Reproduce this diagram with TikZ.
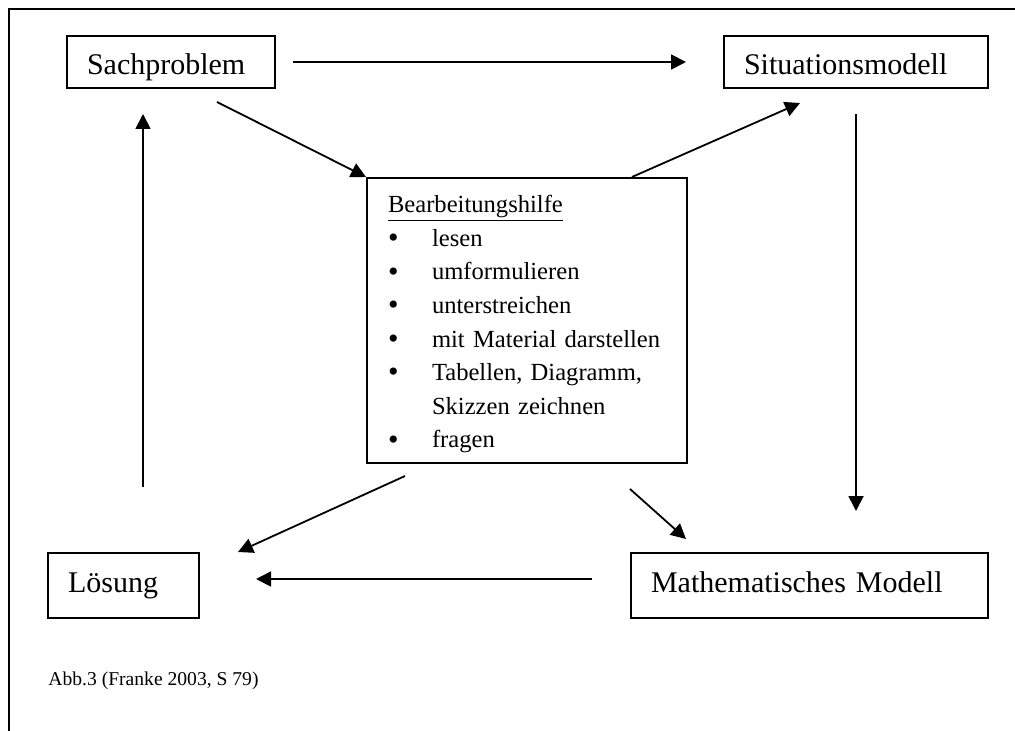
\documentclass[tikz,border=0pt]{standalone}
\usepackage{fontspec}
\setmainfont{Liberation Serif}
\usetikzlibrary{arrows.meta}

\tikzset{
   kasten/.style={draw, line width=1pt, rectangle, inner xsep=10pt, inner ysep=0pt,
      align=left, font=\fontsize{15}{18}\selectfont},
   oben/.style={minimum height=26pt, text height=15pt, text depth=2pt},
   unten/.style={minimum height=32.5pt, text height=10.5pt, text depth=4pt},
   pfeil/.style={-{Triangle[length=7.5pt,width=7.5pt]}, line width=0.9pt},
}
\newcommand{\punkt}{\makebox[22pt][l]{\smash{\raisebox{-0.6pt}{\fontsize{15}{0}\selectfont\textbullet}}}}

\begin{document}
\begin{tikzpicture}[x=0.5pt,y=-0.5pt]
   \useasboundingbox (0,0) rectangle (1015,731);
   % Rahmen
   \draw[line width=1pt] (1015,9) -- (9,9) -- (9,731);

   \node[kasten, oben, text width=84pt] (sach) at (171,62) {Sachproblem};
   \node[kasten, oben, text width=112pt] (situ) at (856,62) {Situationsmodell};
   \node[kasten, unten, text width=55.5pt] (loes) at (123.5,585.5) {Lösung};
   \node[kasten, unten, text width=158.5pt] (mathe) at (809.5,585.5) {Mathematisches Modell};

   \node[kasten, inner xsep=10.5pt, text width=139pt, minimum height=142.5pt,
      font=\fontsize{12.3}{16.8}\selectfont] (hilfe) at (527,320.5) {%
      \rule{0pt}{12.5pt}\underline{Bearbeitungshilfe}\\
      \punkt lesen\\
      \punkt umformulieren\\
      \punkt unterstreichen\\
      \punkt mit Material darstellen\\
      \punkt Tabellen, Diagramm,\\
      \hspace*{22pt}Skizzen zeichnen\\
      \punkt fragen};

   \node[anchor=base west, inner sep=0pt, font=\fontsize{9.8}{12}\selectfont] (quelle) at (48,685)
      {Abb.3 (Franke 2003, S 79)};

   % Pfeile
   \draw[pfeil, shorten <=8.5pt, shorten >=18.5pt] (sach.east) -- (situ.west);
   \draw[pfeil] ([xshift=23pt,yshift=-6.5pt]sach.south) -- (hilfe.north west);
   \draw[pfeil] ([xshift=52.5pt]hilfe.north) -- ([xshift=-28pt,yshift=-7pt]situ.south);
   \draw[pfeil, shorten <=12.5pt, shorten >=20.5pt] (situ.south) -- (situ.south |- mathe.north);
   \draw[pfeil] ([xshift=-61pt,yshift=-6pt]hilfe.south) -- ([xshift=19pt]loes.north east);
   \draw[pfeil] ([xshift=51.5pt,yshift=-12.5pt]hilfe.south) -- ([xshift=28pt,yshift=6.5pt]mathe.north west);
   \draw[pfeil, shorten <=19pt, shorten >=28pt] ([yshift=3.25pt]mathe.west) -- ([yshift=3.25pt]loes.east);
   \coordinate (lauf) at ([xshift=9.75pt]loes.north);
   \draw[pfeil, shorten <=32.5pt, shorten >=12.5pt] (lauf) -- (lauf |- sach.south);
\end{tikzpicture}
\end{document}
